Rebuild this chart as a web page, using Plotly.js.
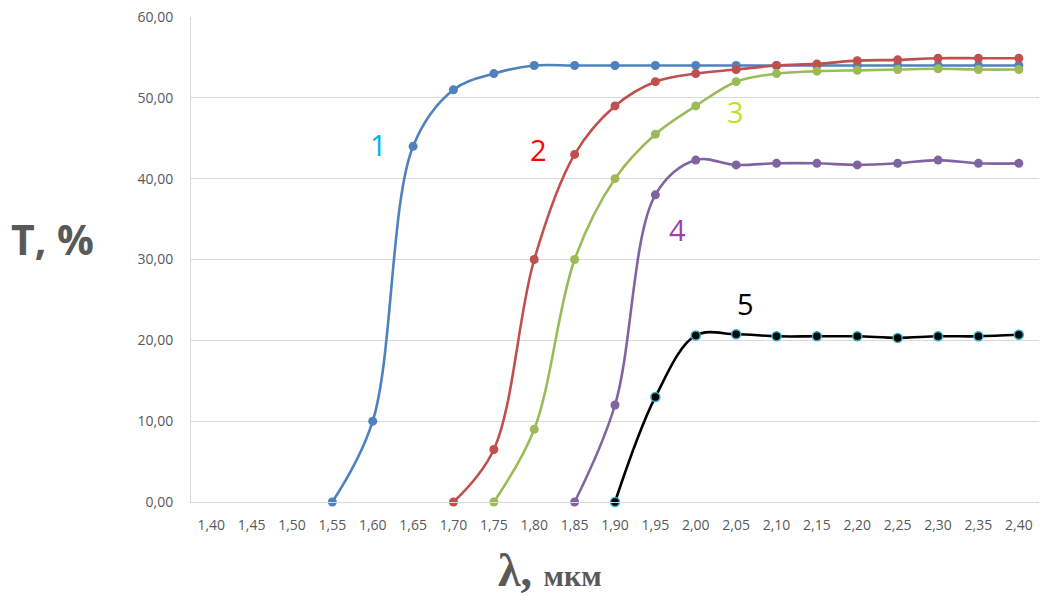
<!DOCTYPE html>
<html>
<head>
<meta charset="utf-8">
<script src="https://cdn.plot.ly/plotly-3.0.1.min.js"></script>
<style>html,body{margin:0;padding:0;background:#fff;}#chart{width:1055px;height:596px;}</style>
</head>
<body>
<div id="chart"></div>
<script>
// Wavelength categories (µm)
const wavelengths = [1.40,1.45,1.50,1.55,1.60,1.65,1.70,1.75,1.80,1.85,1.90,1.95,2.00,2.05,2.10,2.15,2.20,2.25,2.30,2.35,2.40];
const xTickLabels = ["1,40","1,45","1,50","1,55","1,60","1,65","1,70","1,75","1,80","1,85","1,90","1,95","2,00","2,05","2,10","2,15","2,20","2,25","2,30","2,35","2,40"];
const yTickValues = [0,10,20,30,40,50,60];
const yTickLabels = ["0,00","10,00","20,00","30,00","40,00","50,00","60,00"];

// Series (null = no point)
const series1 = [null,null,null,0,10,44,51,53,54,54,54,54,54,54,54,54,54,54,54,54,54];
const series2 = [null,null,null,null,null,null,0,6.5,30,43,49,52,53,53.5,54,54.2,54.6,54.7,54.9,54.9,54.9];
const series3 = [null,null,null,null,null,null,null,0,9,30,40,45.5,49,52,53,53.3,53.4,53.5,53.6,53.5,53.5];
const series4 = [null,null,null,null,null,null,null,null,null,0,12,38,42.3,41.7,41.9,41.9,41.7,41.9,42.3,41.9,41.9];
const series5 = [null,null,null,null,null,null,null,null,null,null,0,13,20.6,20.75,20.5,20.5,20.5,20.3,20.5,20.5,20.7];

const seriesNames = ["1","2","3","4","5"];
const seriesColors = ["#4f81bd","#c0504d","#9bbb59","#8064a2","#000000"];
const markerLineColors = ["#4f81bd","#c0504d","#9bbb59","#8064a2","#31b0c8"];
const labelColors = ["#00b0f0","#ff0000","#c5e01a","#a040a8","#000000"];
// label anchor positions (x in µm, y in %)
const labelX = [1.607,1.805,2.049,1.977,2.061];
const labelY = [44.2,43.6,48.3,33.7,24.6];

const allSeries = [series1,series2,series3,series4,series5];
const traces = allSeries.map((s,i)=>({
  x: wavelengths,
  y: s,
  name: seriesNames[i],
  type: 'scatter',
  mode: 'lines+markers',
  line: {color: seriesColors[i], width: 2.6, shape: 'spline', smoothing: 1},
  marker: {color: seriesColors[i], size: 9, line: {color: markerLineColors[i], width: i===4?1.5:0}},
  cliponaxis: false,
  connectgaps: false,
  hoverinfo: 'x+y'
}));

const annotations = seriesNames.map((n,i)=>({
  x: labelX[i], y: labelY[i], xref:'x', yref:'y',
  text: n, showarrow:false,
  font:{family:'Open Sans, Noto Sans, sans-serif', size:29, color: labelColors[i]},
  xanchor:'center', yanchor:'middle'
}));
annotations.push({
  xref:'paper', yref:'paper', x:-0.163, y:0.542,
  text:'<b>T, %</b>', showarrow:false,
  font:{family:'Open Sans, Noto Sans, sans-serif', size:41, color:'#595959'},
  xanchor:'center', yanchor:'middle'
});
annotations.push({
  xref:'paper', yref:'paper', x:0.423, y:-0.142,
  text:'<b>λ,</b> <b><span style="font-size:30px">мкм</span></b>', showarrow:false,
  font:{family:'Liberation Serif, Times New Roman, serif', size:46, color:'#595959'},
  xanchor:'center', yanchor:'middle'
});

const layout = {
  width:1055, height:596,
  margin:{l:191, r:16, t:17, b:94},
  paper_bgcolor:'#ffffff', plot_bgcolor:'#ffffff',
  showlegend:false,
  xaxis:{
    range:[1.375,2.425],
    tickvals: wavelengths, ticktext: xTickLabels,
    showgrid:false, zeroline:false,
    showline:true, linecolor:'#d9d9d9', linewidth:1,
    ticks:'', ticklabelstandoff:10,
    tickfont:{family:'Open Sans, Noto Sans, sans-serif', size:14, color:'#595959'}
  },
  yaxis:{
    range:[0,60],
    tickvals: yTickValues, ticktext: yTickLabels,
    showgrid:true, gridcolor:'#d9d9d9', gridwidth:1,
    zeroline:false,
    showline:true, linecolor:'#d9d9d9', linewidth:1,
    ticks:'', ticklabelstandoff:14,
    tickfont:{family:'Open Sans, Noto Sans, sans-serif', size:14, color:'#595959'}
  },
  annotations: annotations
};

Plotly.newPlot('chart', traces, layout, {displayModeBar:false, staticPlot:true});
</script>
</body>
</html>
